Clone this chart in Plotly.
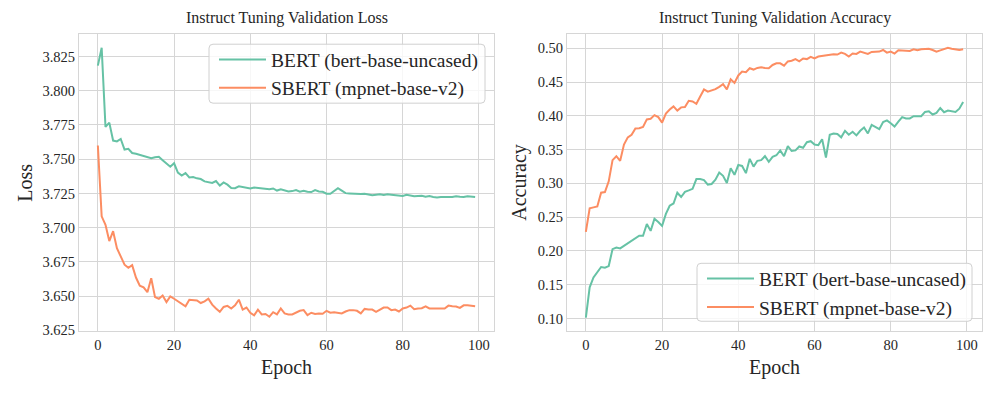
import plotly.graph_objects as go

epochs = list(range(100))

bert_loss = [3.8183, 3.8314, 3.7736, 3.7767, 3.7636, 3.7630, 3.7648, 3.7570, 3.7576, 3.7545,
             3.7540, 3.7533, 3.7524, 3.7514, 3.7507, 3.7514, 3.7517, 3.7493, 3.7470, 3.7445,
             3.7470, 3.7402, 3.7380, 3.7398, 3.7367, 3.7370, 3.7360, 3.7355, 3.7338, 3.7333,
             3.7326, 3.7340, 3.7307, 3.7330, 3.7314, 3.7290, 3.7288, 3.7302, 3.7298, 3.7293,
             3.7286, 3.7293, 3.7290, 3.7286, 3.7286, 3.7280, 3.7286, 3.7271, 3.7280, 3.7270,
             3.7264, 3.7267, 3.7274, 3.7262, 3.7270, 3.7262, 3.7260, 3.7274, 3.7264, 3.7262,
             3.7248, 3.7248, 3.7267, 3.7288, 3.7270, 3.7252, 3.7250, 3.7248, 3.7248, 3.7245,
             3.7248, 3.7243, 3.7236, 3.7240, 3.7243, 3.7238, 3.7243, 3.7240, 3.7236, 3.7233,
             3.7231, 3.7240, 3.7236, 3.7229, 3.7231, 3.7233, 3.7226, 3.7231, 3.7224, 3.7221,
             3.7224, 3.7226, 3.7224, 3.7224, 3.7229, 3.7226, 3.7224, 3.7229, 3.7224, 3.7224]

sbert_loss = [3.7600, 3.7083, 3.7021, 3.6902, 3.6974, 3.6850, 3.6790, 3.6730, 3.6707, 3.6726,
              3.6636, 3.6576, 3.6564, 3.6529, 3.6631, 3.6493, 3.6481, 3.6505, 3.6457, 3.6498,
              3.6481, 3.6462, 3.6445, 3.6426, 3.6474, 3.6469, 3.6469, 3.6450, 3.6462, 3.6481,
              3.6438, 3.6410, 3.6386, 3.6421, 3.6429, 3.6410, 3.6433, 3.6474, 3.6402, 3.6417,
              3.6379, 3.6360, 3.6402, 3.6367, 3.6370, 3.6350, 3.6383, 3.6367, 3.6410, 3.6374,
              3.6367, 3.6367, 3.6379, 3.6393, 3.6398, 3.6362, 3.6379, 3.6370, 3.6374, 3.6372,
              3.6393, 3.6379, 3.6383, 3.6379, 3.6374, 3.6388, 3.6398, 3.6398, 3.6393, 3.6374,
              3.6407, 3.6402, 3.6402, 3.6386, 3.6402, 3.6417, 3.6417, 3.6398, 3.6402, 3.6388,
              3.6410, 3.6417, 3.6431, 3.6405, 3.6410, 3.6412, 3.6426, 3.6410, 3.6410, 3.6412,
              3.6410, 3.6410, 3.6431, 3.6426, 3.6424, 3.6414, 3.6433, 3.6433, 3.6429, 3.6426]

bert_acc = [0.1013, 0.1462, 0.1607, 0.1694, 0.1762, 0.1752, 0.1776, 0.2027, 0.2051, 0.2037,
            0.2075, 0.2104, 0.2138, 0.2186, 0.2225, 0.2225, 0.2399, 0.2297, 0.2476, 0.2428,
            0.2370, 0.2548, 0.2669, 0.2703, 0.2862, 0.2799, 0.2876, 0.2896, 0.2920, 0.3065,
            0.3065, 0.3050, 0.2983, 0.2992, 0.3055, 0.3161, 0.3113, 0.3007, 0.3224, 0.3127,
            0.3272, 0.3258, 0.3152, 0.3364, 0.3248, 0.3335, 0.3345, 0.3403, 0.3320, 0.3393,
            0.3417, 0.3489, 0.3403, 0.3552, 0.3480, 0.3489, 0.3547, 0.3528, 0.3610, 0.3625,
            0.3576, 0.3567, 0.3653, 0.3383, 0.3721, 0.3740, 0.3731, 0.3682, 0.3779, 0.3721,
            0.3764, 0.3711, 0.3779, 0.3827, 0.3740, 0.3866, 0.3837, 0.3803, 0.3909, 0.3933,
            0.3890, 0.3842, 0.3914, 0.3982, 0.3962, 0.3962, 0.3996, 0.3996, 0.3996, 0.4059,
            0.4069, 0.4020, 0.4044, 0.4117, 0.4054, 0.4078, 0.4073, 0.4059, 0.4107, 0.4204]

sbert_acc = [0.2283, 0.2630, 0.2645, 0.2659, 0.2862, 0.2872, 0.3031, 0.3345, 0.3403, 0.3335,
             0.3576, 0.3682, 0.3721, 0.3813, 0.3818, 0.3837, 0.3948, 0.3958, 0.4011, 0.3982,
             0.3900, 0.4035, 0.4093, 0.4141, 0.4078, 0.4126, 0.4131, 0.4223, 0.4214, 0.4180,
             0.4286, 0.4392, 0.4358, 0.4373, 0.4397, 0.4431, 0.4469, 0.4392, 0.4542, 0.4488,
             0.4599, 0.4657, 0.4648, 0.4706, 0.4686, 0.4710, 0.4720, 0.4710, 0.4706, 0.4754,
             0.4778, 0.4778, 0.4744, 0.4807, 0.4817, 0.4841, 0.4807, 0.4850, 0.4841, 0.4875,
             0.4850, 0.4879, 0.4889, 0.4903, 0.4913, 0.4913, 0.4908, 0.4937, 0.4918, 0.4879,
             0.4923, 0.4918, 0.4952, 0.4937, 0.4918, 0.4947, 0.4952, 0.4952, 0.4976, 0.4937,
             0.4952, 0.4923, 0.4971, 0.4971, 0.4971, 0.4961, 0.4986, 0.4971, 0.4986, 0.4995,
             0.4995, 0.4976, 0.4952, 0.4971, 0.4986, 0.5010, 0.4995, 0.4986, 0.4976, 0.4986]

series_names = ["BERT (bert-base-uncased)", "SBERT (mpnet-base-v2)"]
titles = ["Instruct Tuning Validation Loss", "Instruct Tuning Validation Accuracy"]
x_ticks = [0, 20, 40, 60, 80, 100]
loss_ticks = [3.625, 3.650, 3.675, 3.700, 3.725, 3.750, 3.775, 3.800, 3.825]
acc_ticks = [0.10, 0.15, 0.20, 0.25, 0.30, 0.35, 0.40, 0.45, 0.50]

W, H = 997, 399
TEAL = "#66c2a5"
ORANGE = "#fc8d62"
FONT = "Liberation Serif"
TXT = "#262626"
GRID = "#d6d6d6"


def px(x):
    return x / W


def py(y):
    return 1 - y / H


def rounded_box(x0, y0, x1, y1, r=4):
    # path in paper coordinates, built from pixel positions
    pts = [
        f"M{px(x0 + r)},{py(y0)}",
        f"L{px(x1 - r)},{py(y0)}",
        f"Q{px(x1)},{py(y0)} {px(x1)},{py(y0 + r)}",
        f"L{px(x1)},{py(y1 - r)}",
        f"Q{px(x1)},{py(y1)} {px(x1 - r)},{py(y1)}",
        f"L{px(x0 + r)},{py(y1)}",
        f"Q{px(x0)},{py(y1)} {px(x0)},{py(y1 - r)}",
        f"L{px(x0)},{py(y0 + r)}",
        f"Q{px(x0)},{py(y0)} {px(x0 + r)},{py(y0)}",
        "Z",
    ]
    return dict(type="path", xref="paper", yref="paper", path=" ".join(pts), layer="above",
                fillcolor="rgba(255,255,255,0.8)", line=dict(color="#d0d0d0", width=1))


fig = go.Figure()
fig.add_trace(go.Scatter(x=epochs, y=bert_loss, mode="lines", name=series_names[0],
                         line=dict(color=TEAL, width=2), xaxis="x", yaxis="y", legend="legend"))
fig.add_trace(go.Scatter(x=epochs, y=sbert_loss, mode="lines", name=series_names[1],
                         line=dict(color=ORANGE, width=2), xaxis="x", yaxis="y", legend="legend"))
fig.add_trace(go.Scatter(x=epochs, y=bert_acc, mode="lines", name=series_names[0],
                         line=dict(color=TEAL, width=2), xaxis="x2", yaxis="y2", legend="legend2"))
fig.add_trace(go.Scatter(x=epochs, y=sbert_acc, mode="lines", name=series_names[1],
                         line=dict(color=ORANGE, width=2), xaxis="x2", yaxis="y2", legend="legend2"))

ax_common = dict(showgrid=True, gridcolor=GRID, gridwidth=1, showline=True, linecolor=GRID,
                 linewidth=1.2, mirror=True, zeroline=False, ticks="",
                 tickfont=dict(family=FONT, size=14.5, color=TXT))

ydom = [py(337), py(35)]
leg_common = dict(xanchor="left", yanchor="top", bgcolor="rgba(0,0,0,0)", borderwidth=0,
                  font=dict(family=FONT, size=19.5, color=TXT), tracegroupgap=0, itemwidth=47)

fig.update_layout(
    width=W, height=H,
    margin=dict(l=0, r=0, t=0, b=0),
    paper_bgcolor="white", plot_bgcolor="white",
    font=dict(family=FONT, color=TXT),
    xaxis=dict(domain=[px(79), px(494)], range=[-4.95, 103.95], tickvals=x_ticks,
               anchor="y", **ax_common),
    yaxis=dict(domain=ydom, range=[3.6245, 3.8411], tickvals=loss_ticks,
               tickformat=".3f", anchor="x", **ax_common),
    xaxis2=dict(domain=[px(567), px(982)], range=[-4.95, 103.95], tickvals=x_ticks,
                anchor="y2", **ax_common),
    yaxis2=dict(domain=ydom, range=[0.0813, 0.5207], tickvals=acc_ticks,
                tickformat=".2f", anchor="x2", **ax_common),
    legend=dict(x=px(214), y=py(41), **leg_common),
    legend2=dict(x=px(702), y=py(264), **leg_common),
    shapes=[rounded_box(209, 45, 485, 105), rounded_box(697, 268, 972, 327)],
    annotations=[
        dict(text=titles[0], x=px((79 + 494) / 2), y=py(18), xref="paper", yref="paper",
             showarrow=False, font=dict(family=FONT, size=16, color=TXT), xanchor="center", yanchor="middle"),
        dict(text=titles[1], x=px((567 + 982) / 2), y=py(18), xref="paper", yref="paper",
             showarrow=False, font=dict(family=FONT, size=16, color=TXT), xanchor="center", yanchor="middle"),
        dict(text="Epoch", x=px((79 + 494) / 2), y=py(374), xref="paper", yref="paper",
             showarrow=False, font=dict(family=FONT, size=20, color=TXT), xanchor="center", yanchor="middle"),
        dict(text="Epoch", x=px((567 + 982) / 2), y=py(374), xref="paper", yref="paper",
             showarrow=False, font=dict(family=FONT, size=20, color=TXT), xanchor="center", yanchor="middle"),
        dict(text="Loss", x=px(25), y=py(186), xref="paper", yref="paper", textangle=-90,
             showarrow=False, font=dict(family=FONT, size=20, color=TXT), xanchor="center", yanchor="middle"),
        dict(text="Accuracy", x=px(520), y=py(186), xref="paper", yref="paper", textangle=-90,
             showarrow=False, font=dict(family=FONT, size=20, color=TXT), xanchor="center", yanchor="middle"),
    ],
)

fig.write_html("out.html", config={"displayModeBar": False},
               post_script="document.body.style.margin='0';document.body.style.padding='0';")
